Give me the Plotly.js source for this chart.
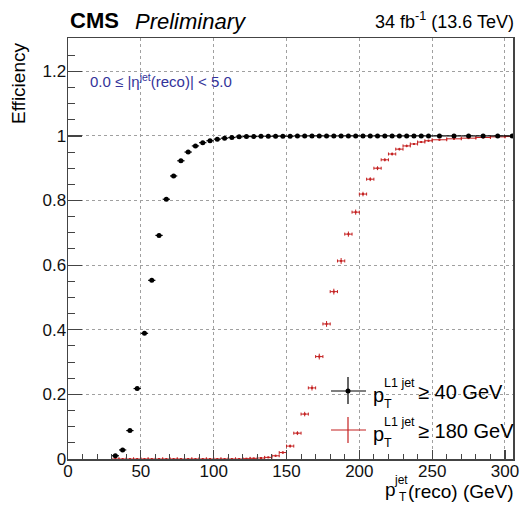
<!DOCTYPE html>
<html>
<head>
<meta charset="utf-8">
<script src="https://cdn.plot.ly/plotly-3.0.1.min.js"></script>
<style>html,body{margin:0;padding:0;background:#fff;}#plot{width:520px;height:505px;}</style>
</head>
<body>
<div id="plot"></div>
<script>
// ---- data ----
const ptCenters = [32.5,37.5,42.5,47.5,52.5,57.5,62.5,67.5,72.5,77.5,82.5,87.5,92.5,97.5,
  102.5,107.5,112.5,117.5,122.5,127.5,132.5,137.5,142.5,147.5,152.5,157.5,162.5,167.5,172.5,177.5,
  182.5,187.5,192.5,197.5,202.5,207.5,212.5,217.5,222.5,227.5,232.5,237.5,242.5,247.5,
  255,265,275,285,295,305];
const ptHalfWidth = [2.5,2.5,2.5,2.5,2.5,2.5,2.5,2.5,2.5,2.5,2.5,2.5,2.5,2.5,
  2.5,2.5,2.5,2.5,2.5,2.5,2.5,2.5,2.5,2.5,2.5,2.5,2.5,2.5,2.5,2.5,
  2.5,2.5,2.5,2.5,2.5,2.5,2.5,2.5,2.5,2.5,2.5,2.5,2.5,2.5,
  5,5,5,5,5,5];
const eff40 = [0.010,0.028,0.088,0.218,0.389,0.553,0.692,0.804,0.876,0.923,0.950,0.969,0.979,0.985,
  0.990,0.993,0.995,0.997,0.998,0.998,0.999,0.999,0.999,0.999,0.999,1.000,1.000,1.000,1.000,1.000,
  1.000,1.000,1.000,1.000,1.000,1.000,1.000,1.000,1.000,1.000,1.000,1.000,1.000,1.000,
  1.000,1.000,1.000,1.000,1.000,1.000];
const err40 = [0.002,0.003,0.004,0.005,0.005,0.005,0.005,0.004,0.004,0.003,0.003,0.002,0.002,0.002,
  0.001,0.001,0.001,0.001,0.001,0.001,0.001,0.001,0.001,0.001,0.001,0.001,0.001,0.001,0.001,0.001,
  0.001,0.001,0.001,0.001,0.001,0.001,0.001,0.001,0.001,0.001,0.001,0.001,0.001,0.001,
  0.001,0.001,0.001,0.001,0.001,0.001];
const eff180 = [0.000,0.000,0.000,0.000,0.000,0.000,0.000,0.000,0.000,0.000,0.000,0.000,0.000,0.000,
  0.000,0.000,0.000,0.000,0.001,0.002,0.003,0.005,0.010,0.020,0.040,0.080,0.139,0.220,0.317,0.418,
  0.518,0.613,0.696,0.764,0.820,0.866,0.900,0.926,0.944,0.959,0.969,0.975,0.981,0.985,
  0.988,0.991,0.993,0.995,0.997,0.998];
const err180 = [0.001,0.001,0.001,0.001,0.001,0.001,0.001,0.001,0.001,0.001,0.001,0.001,0.001,0.001,
  0.001,0.001,0.001,0.001,0.001,0.001,0.002,0.002,0.003,0.004,0.005,0.006,0.007,0.008,0.009,0.009,
  0.009,0.009,0.008,0.008,0.007,0.006,0.006,0.005,0.005,0.004,0.004,0.003,0.003,0.003,
  0.002,0.002,0.002,0.002,0.002,0.002];
const legendLabels = ["\u2265 40 GeV", "\u2265 180 GeV"];
const xTickVals = [0,50,100,150,200,250,300];
const yTickVals = [0,0.2,0.4,0.6,0.8,1.0,1.2];
const yTickText = ["0","0.2","0.4","0.6","0.8","1","1.2"];

// ---- layout helpers ----
const W = 520, H = 505;
const L = 68, R = 513, T = 38, B = 459;
const px = p => (p - L) / (R - L);
const py = p => (B - p) / (B - T);
const FONT = "Liberation Sans, Arial, Helvetica, sans-serif";
const RED = "#c42020";

const traces = [
  {
    x: ptCenters, y: eff180, type: "scatter", mode: "markers",
    marker: {color: RED, size: 2, symbol: "square"},
    error_x: {type: "data", array: ptHalfWidth, visible: true, color: RED, thickness: 1, width: 1.5},
    error_y: {type: "data", array: err180, visible: true, color: RED, thickness: 1, width: 0},
    showlegend: false, cliponaxis: true
  },
  {
    x: ptCenters, y: eff40, type: "scatter", mode: "markers",
    marker: {color: "#000", size: 5, symbol: "circle"},
    error_x: {type: "data", array: ptHalfWidth, visible: true, color: "#000", thickness: 1.2, width: 0},
    error_y: {type: "data", array: err40, visible: true, color: "#000", thickness: 1.2, width: 0},
    showlegend: false, cliponaxis: true
  }
];

const ann = [];
function A(text, x, y, size, opts) {
  ann.push(Object.assign({text: text, xref: "paper", yref: "paper", x: px(x), y: py(y),
    showarrow: false, font: {family: FONT, size: size, color: "#000"},
    xanchor: "left", yanchor: "middle"}, opts || {}));
}
// header
A("<b>CMS</b>", 68, 20, 22);
A("<i>Preliminary</i>", 133, 21, 22);
A("34 fb<sup>-1</sup> (13.6 TeV)", 516, 20, 18, {xanchor: "right"});
// eta label
A("0.0 \u2264 |\u03b7<sup>jet</sup>(reco)| < 5.0", 88, 80, 15, {font: {family: FONT, size: 15, color: "#33339a"}});
// y title
A("Efficiency", 18, 84, 19, {xanchor: "center", textangle: -90});
// x title
A("(reco) (GeV)", 516, 491, 19, {xanchor: "right"});
A("jet", 410, 480, 12, {xanchor: "right"});
A("T", 397, 497, 12, {xanchor: "left"});
A("p", 398, 489, 19, {xanchor: "right"});
// legend text
const legY = [391, 430];
legendLabels.forEach((lab, i) => {
  const yc = legY[i];
  A("p", 371, yc + 4, 20);
  A("L1 jet", 382, yc - 8, 12.5);
  A("T", 382, yc + 13, 12.5);
  A(lab, 416, yc + 1, 20);
});

const shapes = [];
function seg(x0, y0, x1, y1, col, w) {
  shapes.push({type: "line", xref: "paper", yref: "paper", x0: px(x0), y0: py(y0), x1: px(x1), y1: py(y1),
    line: {color: col, width: w}});
}
// legend symbols
seg(331, 391, 366, 391, "#000", 1.2);
seg(348, 377, 348, 404, "#000", 1.2);
shapes.push({type: "circle", xref: "paper", yref: "paper", x0: px(345.5), x1: px(350.5), y0: py(393.5), y1: py(388.5),
  fillcolor: "#000", line: {color: "#000", width: 0}});
seg(331, 430, 366, 430, RED, 1.2);
seg(348, 417, 348, 443, RED, 1.2);

const layout = {
  width: W, height: H,
  margin: {l: L, r: W - R, t: T, b: H - B, pad: 0},
  paper_bgcolor: "#fff", plot_bgcolor: "#fff",
  font: {family: FONT, size: 17, color: "#111"},
  showlegend: false,
  xaxis: {
    range: [0, 305.5], showline: true, mirror: true, linecolor: "#444", linewidth: 1.5,
    ticks: "inside", ticklen: 9, tickwidth: 1.2, tickcolor: "#444",
    tickvals: xTickVals, ticktext: xTickVals.map(String), ticklabelstandoff: -4,
    showgrid: true, gridcolor: "#a0a0a0", griddash: "dot", gridwidth: 1,
    zeroline: false, tickfont: {family: FONT, size: 17, color: "#111"},
    minor: {ticks: "inside", ticklen: 5, dtick: 10, tick0: 0, tickcolor: "#444", tickwidth: 1, showgrid: false}
  },
  yaxis: {
    range: [0, 1.303], showline: true, mirror: true, linecolor: "#444", linewidth: 1.5,
    ticks: "inside", ticklen: 14, tickwidth: 1.2, tickcolor: "#444",
    tickvals: yTickVals, ticktext: yTickText, ticklabelstandoff: -3,
    showgrid: true, gridcolor: "#a0a0a0", griddash: "dot", gridwidth: 1,
    zeroline: false, tickfont: {family: FONT, size: 17, color: "#111"},
    minor: {ticks: "inside", ticklen: 7, dtick: 0.05, tick0: 0, tickcolor: "#444", tickwidth: 1, showgrid: false}
  },
  annotations: ann,
  shapes: shapes
};

Plotly.newPlot("plot", traces, layout, {staticPlot: true, displayModeBar: false});
</script>
</body>
</html>
